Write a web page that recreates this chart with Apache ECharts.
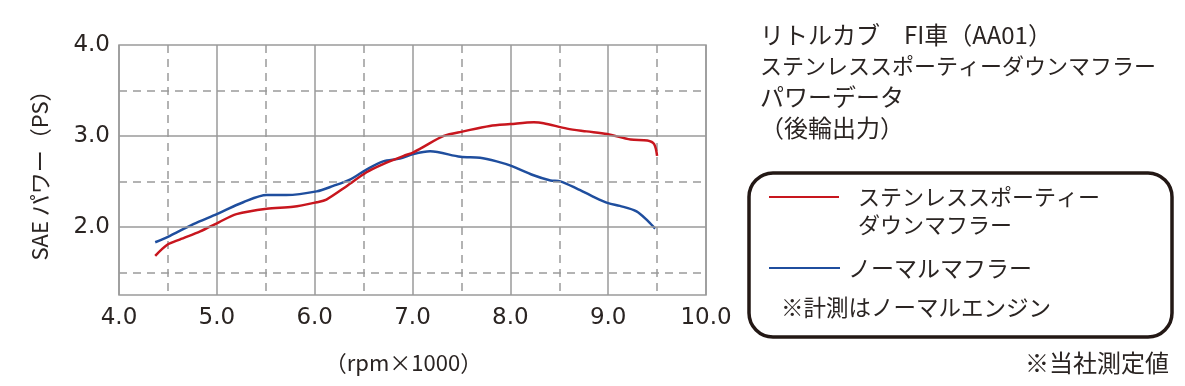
<!DOCTYPE html>
<html><head><meta charset="utf-8">
<script src="https://cdn.jsdelivr.net/npm/echarts@6/dist/echarts.min.js"></script>
<style>html,body{margin:0;padding:0;background:#fff}#c{width:1185px;height:386px}</style>
</head><body><div id="c"></div>
<script>
var redX = [4.37,4.49,4.62,4.83,5.02,5.20,5.51,5.78,6.02,6.12,6.33,6.53,6.70,6.91,7.01,7.08,7.32,7.52,7.79,8.00,8.24,8.34,8.58,8.78,8.99,9.23,9.40,9.47,9.50];
var redY = [1.68,1.80,1.86,1.95,2.05,2.14,2.20,2.22,2.27,2.30,2.45,2.60,2.69,2.78,2.82,2.86,3.00,3.05,3.11,3.13,3.15,3.14,3.08,3.05,3.02,2.96,2.95,2.91,2.78];
var blueX = [4.37,4.50,4.76,5.00,5.27,5.51,5.71,6.02,6.19,6.36,6.53,6.70,6.87,7.01,7.18,7.49,7.69,7.86,8.01,8.23,8.41,8.51,8.68,8.85,9.00,9.12,9.29,9.41,9.48];
var blueY = [1.83,1.89,2.03,2.14,2.27,2.35,2.35,2.39,2.45,2.52,2.63,2.72,2.75,2.80,2.83,2.77,2.76,2.72,2.67,2.57,2.51,2.50,2.42,2.33,2.26,2.23,2.17,2.06,1.98];
var yTickLabels = [2, 3, 4];
var ySolid = [2, 3];
var yDashed = [1.5, 2.5, 3.5];
var titleLines = ['リトルカブ　FI車（AA01）', 'ステンレススポーティーダウンマフラー', 'パワーデータ', '（後輪出力）'];
var redName = ['ステンレススポーティー', 'ダウンマフラー'];
var blueName = 'ノーマルマフラー';
var noteText = '※計測はノーマルエンジン';
var footText = '※当社測定値';
var xName = '（rpm×1000）';
var yName = 'SAE パワー（PS）';

var FONT = '"Noto Sans CJK JP", "Noto Sans", sans-serif';
var NUMFONT = '"DejaVu Sans", sans-serif';
var TXT = '#2a2422';
var GRID = '#9a9a9a';
var RED = '#c8161e';
var BLUE = '#1f4e9e';

function zip(a, b) { return a.map(function (v, i) { return [v, b[i]]; }); }

var gridMarks = ySolid.map(function (v) { return { yAxis: v, lineStyle: { type: 'solid' } }; })
  .concat(yDashed.map(function (v) { return { yAxis: v, lineStyle: { type: [8, 6] } }; }));

function txt(t, x, y, size) {
  return { type: 'text', x: x, y: y, style: { text: t, font: size + 'px ' + FONT, fill: TXT, verticalAlign: 'middle', align: 'left' } };
}
var titleY = [35, 66, 97, 128];
var titleSize = [24, 22, 24, 24];
var titleGraphics = titleLines.map(function (t, i) { return txt(t, 760, titleY[i], titleSize[i]); });

var chart = echarts.init(document.getElementById('c'));
chart.setOption({
  animation: false,
  grid: { left: 119, top: 45, right: 479, bottom: 91, show: true, borderColor: GRID, borderWidth: 1.5, backgroundColor: 'transparent' },
  xAxis: {
    type: 'value', min: 4, max: 10, interval: 1,
    name: xName, nameLocation: 'middle', nameGap: 57,
    nameTextStyle: { fontFamily: FONT, fontSize: 22, color: TXT, padding: [0, 18, 0, 0] },
    axisLine: { show: false }, axisTick: { show: false },
    axisLabel: { formatter: function (v) { return v.toFixed(1); }, fontFamily: NUMFONT, fontSize: 23, color: TXT, margin: 12 },
    splitLine: { show: true, lineStyle: { color: GRID, width: 1.5 } },
    minorTick: { show: false, splitNumber: 2 },
    minorSplitLine: { show: true, lineStyle: { color: GRID, width: 1.5, type: [8, 6] } }
  },
  yAxis: {
    type: 'value', min: 1.25, max: 4,
    name: yName, nameLocation: 'middle', nameGap: 68,
    nameTextStyle: { fontFamily: FONT, fontSize: 22, color: TXT },
    axisLine: { show: false }, axisTick: { show: false },
    axisLabel: { customValues: yTickLabels, formatter: function (v) { return v.toFixed(1); }, fontFamily: NUMFONT, fontSize: 23, color: TXT, margin: 9 },
    splitLine: { show: false }
  },
  series: [
    { type: 'line', data: [], markLine: { silent: true, symbol: 'none', label: { show: false }, lineStyle: { color: GRID, width: 1.5 }, data: gridMarks }, z: 1 },
    { name: redName.join(''), type: 'line', data: zip(redX, redY), smooth: 0.3, showSymbol: false, lineStyle: { color: RED, width: 2.5 }, z: 3 },
    { name: blueName, type: 'line', data: zip(blueX, blueY), smooth: 0.3, showSymbol: false, lineStyle: { color: BLUE, width: 2.5 }, z: 2 }
  ],
  graphic: titleGraphics.concat([
    { type: 'rect', shape: { x: 749, y: 173, width: 423, height: 164, r: 24 }, style: { fill: 'none', stroke: '#231815', lineWidth: 3.5 } },
    { type: 'line', shape: { x1: 769, y1: 197, x2: 839, y2: 197 }, style: { stroke: RED, lineWidth: 2 } },
    txt(redName[0], 858, 197, 22),
    txt(redName[1], 858, 225, 22),
    { type: 'line', shape: { x1: 769, y1: 268, x2: 840, y2: 268 }, style: { stroke: BLUE, lineWidth: 2 } },
    txt(blueName, 848, 268, 23),
    txt(noteText, 781, 307, 22.5),
    txt(footText, 1025, 363, 24)
  ])
});
</script></body></html>
